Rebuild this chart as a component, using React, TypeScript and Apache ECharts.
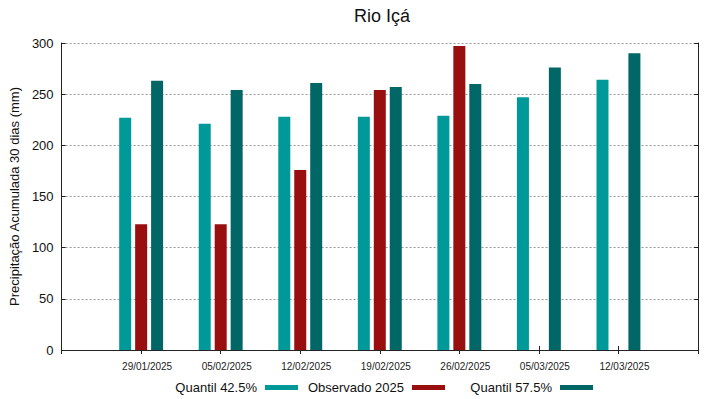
import React, { useEffect, useRef } from "react";
import * as echarts from "echarts";

const dates = ["29/01/2025", "05/02/2025", "12/02/2025", "19/02/2025", "26/02/2025", "05/03/2025", "12/03/2025"];
const quantil425 = [227, 221, 228, 228, 229, 247, 264];
const observado2025: (number | null)[] = [123, 123, 176, 254, 297, null, null];
const quantil575 = [263, 254, 261, 257, 260, 276, 290];
const yTicks = [0, 50, 100, 150, 200, 250, 300];

const FONT = "Liberation Sans";
const C1 = "#009999";
const C2 = "#990f0f";
const C3 = "#006666";

export default function App() {
  const ref = useRef<HTMLDivElement>(null);
  useEffect(() => {
    if (!ref.current) return;
    const chart = echarts.init(ref.current, undefined, { renderer: "svg" });
    const cats = ["", ...dates, ""];
    const pad = (a: (number | null)[]) => [null, ...a, null];
    const xBase = {
      type: "category" as const,
      data: cats,
      boundaryGap: false,
      axisLine: { show: true, lineStyle: { color: "#222", width: 1 } },
      axisTick: { show: true, inside: true, length: 4, lineStyle: { color: "#222" } },
      splitLine: { show: false },
    };
    const yBase = {
      type: "value" as const,
      min: yTicks[0],
      max: yTicks[yTicks.length - 1],
      interval: 50,
      axisLine: { show: true, lineStyle: { color: "#222", width: 1 } },
      axisTick: { show: true, inside: true, length: 4, lineStyle: { color: "#222" } },
    };
    const legendCommon = {
      orient: "horizontal" as const,
      align: "right" as const,
      top: 381,
      padding: 0,
      itemWidth: 33,
      itemHeight: 5,
      itemGap: 0,
      icon: "rect",
      selectedMode: false,
      textStyle: { fontFamily: FONT, fontSize: 13, color: "#111", padding: [0, 3, 0, 0] },
    };
    chart.setOption({
      animation: false,
      backgroundColor: "#fff",
      textStyle: { fontFamily: FONT },
      title: {
        text: "Rio Içá",
        left: 377,
        textAlign: "center",
        top: 2,
        textStyle: { fontFamily: FONT, fontSize: 18, fontWeight: "normal", color: "#111" },
      },
      legend: [
        { ...legendCommon, right: 421, data: ["Quantil 42.5%"] },
        { ...legendCommon, right: 274, data: ["Observado 2025"] },
        { ...legendCommon, right: 126, data: ["Quantil 57.5%"] },
      ],
      grid: { left: 58, right: 21, top: 43, bottom: 49, containLabel: false },
      xAxis: [
        {
          ...xBase,
          position: "bottom",
          axisLabel: { fontFamily: FONT, fontSize: 10, color: "#222", margin: 11, interval: 0, padding: [0, 0, 0, 12] },
        },
        { ...xBase, position: "top", axisLabel: { show: false } },
      ],
      yAxis: [
        {
          ...yBase,
          position: "left",
          name: "Precipitação Acumulada 30 dias (mm)",
          nameLocation: "middle",
          nameGap: 37,
          nameTextStyle: { fontFamily: FONT, fontSize: 13, color: "#111" },
          axisLabel: { fontFamily: FONT, fontSize: 13, color: "#111", margin: 8 },
          splitLine: { show: true, lineStyle: { type: [2, 2], color: "#999", width: 1 } },
        },
        { ...yBase, position: "right", axisLabel: { show: false }, splitLine: { show: false } },
      ],
      series: [
        { name: "Quantil 42.5%", type: "bar", data: pad(quantil425), barWidth: 12, barGap: "33%", itemStyle: { color: C1 } },
        { name: "Observado 2025", type: "bar", data: pad(observado2025), barWidth: 12, barGap: "33%", itemStyle: { color: C2 } },
        { name: "Quantil 57.5%", type: "bar", data: pad(quantil575), barWidth: 12, barGap: "33%", itemStyle: { color: C3 } },
      ],
    });
    return () => chart.dispose();
  }, []);
  return <div ref={ref} style={{ width: 719, height: 399, position: "absolute", left: 0, top: 0 }} />;
}
